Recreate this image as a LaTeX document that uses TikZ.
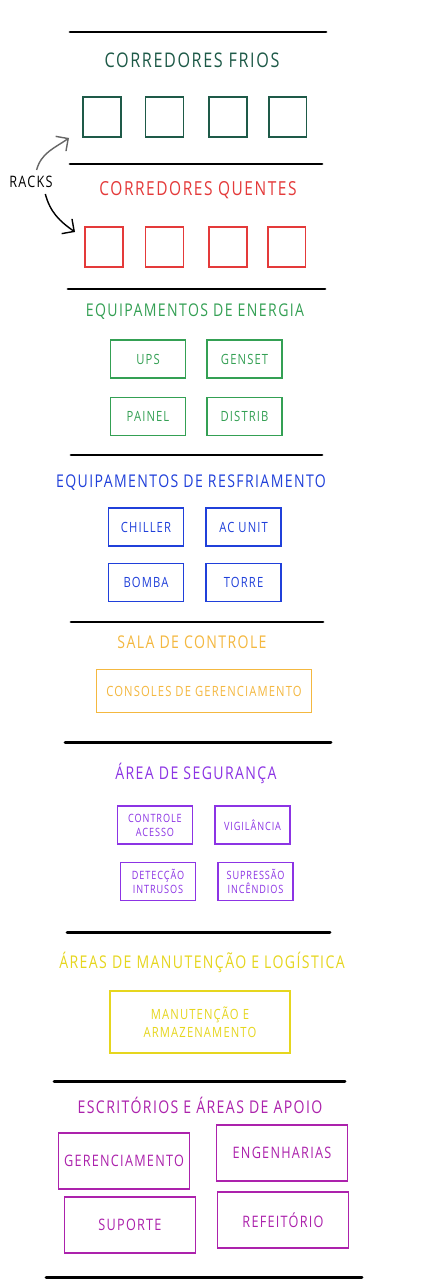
\documentclass[tikz,border=0pt]{standalone}
\usepackage{fontspec}
\newfontfamily\handfont[FakeStretch=0.8,LetterSpace=8]{Open Sans}
\usetikzlibrary{positioning}
\usetikzlibrary{arrows.meta}

\definecolor{frio}{RGB}{30,90,72}
\definecolor{quente}{RGB}{228,58,58}
\definecolor{energia}{RGB}{52,160,84}
\definecolor{resfria}{RGB}{32,64,218}
\definecolor{controle}{RGB}{244,184,64}
\definecolor{seguranca}{RGB}{140,52,228}
\definecolor{manut}{RGB}{230,214,30}
\definecolor{apoio}{RGB}{172,34,172}

\tikzset{
  divider/.style={line width=1.7pt, line cap=round},
  titulo/.style={font=\handfont\fontsize{10}{12}\selectfont, inner sep=0pt},
  rack/.style={draw, line width=0.9pt, minimum width=0.76cm, minimum height=0.8cm, inner sep=0pt},
  equip/.style={draw, line width=0.9pt, minimum width=1.5cm, minimum height=0.76cm, inner sep=0pt, align=center, font=\handfont\fontsize{8}{10}\selectfont},
  sala/.style={draw, line width=0.9pt, inner sep=0pt, align=center, font=\handfont\fontsize{8}{10}\selectfont},
  pequeno/.style={font=\handfont\fontsize{6.5}{8}\selectfont},
  apoiobox/.style={draw=apoio, text=apoio, line width=0.9pt, minimum width=2.62cm, minimum height=1.12cm, inner sep=0pt, font=\handfont\fontsize{9}{11}\selectfont},
  seta/.style={line width=0.8pt, -{Straight Barb[length=1.8mm]}},
}

\begin{document}
\begin{tikzpicture}[x=0.02cm,y=-0.02cm]
\fill[white] (0,0) rectangle (433,1280);
\useasboundingbox (0,0) rectangle (433,1280);

\draw[divider] (70,32) -- (326,32);
\draw[divider] (70,164) -- (322,164);
\draw[divider] (68,289) -- (325,289);
\draw[divider] (71,455) -- (322,455);
\draw[divider] (71,622) -- (323,622);
\draw[divider] (65,742) -- (331,742);
\draw[divider] (67,932) -- (330,932);
\draw[divider] (54,1081) -- (345,1081);
\draw[divider] (46,1277) -- (362,1277);

\node[titulo, text=frio, font=\handfont\fontsize{11.5}{13}\selectfont] (TFrio) at (192,60) {CORREDORES FRIOS};
\node[rack, draw=frio] (F1) at (102,117) {};
\node[rack, draw=frio, right=0.46cm of F1] (F2) {};
\node[rack, draw=frio, right=0.48cm of F2] (F3) {};
\node[rack, draw=frio, right=0.4cm of F3] (F4) {};

\node[titulo, text=quente, font=\handfont\fontsize{11}{13}\selectfont] (TQuente) at (198,190) {CORREDORES QUENTES};
\node[rack, draw=quente] (Q1) at (104,247) {};
\node[rack, draw=quente, right=0.42cm of Q1] (Q2) {};
\node[rack, draw=quente, right=0.48cm of Q2] (Q3) {};
\node[rack, draw=quente, right=0.38cm of Q3] (Q4) {};

\node[font=\handfont\fontsize{9}{11}\selectfont] (Racks) at (31,182) {RACKS};
\coordinate (FrioTip) at (69,138);
\coordinate (QuenteTip) at (75,232);
\draw[seta, gray!80!black] (Racks.65) to[out=75, in=215] (FrioTip);
\draw[seta] (Racks.-40) to[out=-75, in=145] (QuenteTip);

\node[titulo, text=energia] (TEnergia) at (195,312) {EQUIPAMENTOS DE ENERGIA};
\node[equip, draw=energia, text=energia] (UPS) at (148,359) {UPS};
\node[equip, draw=energia, text=energia, right=0.4cm of UPS] (Genset) {GENSET};
\node[equip, draw=energia, text=energia, below=0.36cm of UPS] (Painel) {PAINEL};
\node[equip, draw=energia, text=energia, below=0.36cm of Genset] (Distrib) {DISTRIB};

\node[titulo, text=resfria] (TResfria) at (191,483) {EQUIPAMENTOS DE RESFRIAMENTO};
\node[equip, draw=resfria, text=resfria] (Chiller) at (146,527) {CHILLER};
\node[equip, draw=resfria, text=resfria, right=0.42cm of Chiller] (ACUnit) {AC UNIT};
\node[equip, draw=resfria, text=resfria, below=0.32cm of Chiller] (Bomba) {BOMBA};
\node[equip, draw=resfria, text=resfria, below=0.32cm of ACUnit] (Torre) {TORRE};

\node[titulo, text=controle] (TControle) at (192,642) {SALA DE CONTROLE};
\node[sala, draw=controle, text=controle, minimum width=4.3cm, minimum height=0.86cm] (Consoles) at (204,691) {CONSOLES DE GERENCIAMENTO};

\node[titulo, text=seguranca] (TSeguranca) at (196,773) {ÁREA DE SEGURANÇA};
\node[equip, pequeno, draw=seguranca, text=seguranca] (Acesso) at (155,825) {CONTROLE\\ACESSO};
\node[equip, pequeno, draw=seguranca, text=seguranca, right=0.42cm of Acesso] (Vigilancia) {VIGILÂNCIA};
\node[equip, pequeno, draw=seguranca, text=seguranca, below=0.34cm of Acesso, xshift=0.06cm] (Intrusos) {DETECÇÃO\\INTRUSOS};
\node[equip, pequeno, draw=seguranca, text=seguranca, below=0.34cm of Vigilancia, xshift=0.06cm] (Incendios) {SUPRESSÃO\\INCÊNDIOS};

\node[titulo, text=manut] (TManut) at (202,962) {ÁREAS DE MANUTENÇÃO E LOGÍSTICA};
\node[sala, draw=manut, text=manut, minimum width=3.6cm, minimum height=1.24cm] (Armazem) at (200,1022) {MANUTENÇÃO E\\ARMAZENAMENTO};

\node[titulo, text=apoio] (TApoio) at (200,1105) {ESCRITÓRIOS E ÁREAS DE APOIO};
\node[apoiobox] (Gerencia) at (124,1161) {GERENCIAMENTO};
\node[apoiobox] (Engenharia) at (282,1153) {ENGENHARIAS};
\node[apoiobox] (Suporte) at (130,1225) {SUPORTE};
\node[apoiobox] (Refeitorio) at (283,1220) {REFEITÓRIO};
\end{tikzpicture}
\end{document}
